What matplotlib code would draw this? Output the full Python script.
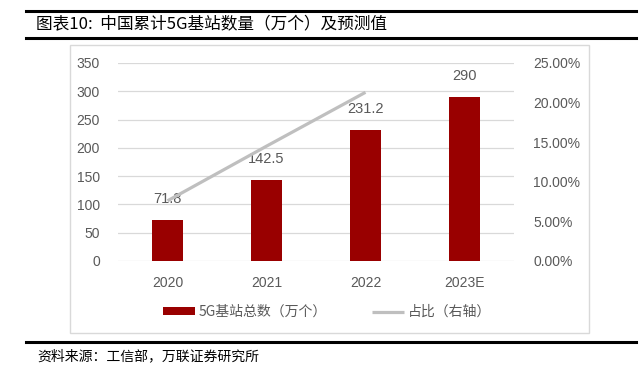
import matplotlib
matplotlib.use('Agg')
import matplotlib.pyplot as plt
from matplotlib.patches import Rectangle
from matplotlib.lines import Line2D

# data
years = ['2020', '2021', '2022', '2023E']
stations = [71.8, 142.5, 231.2, 290]
share_years = ['2020', '2021', '2022']
share = [7.6, 14.5, 21.3]  # percent
left_ticks = [0, 50, 100, 150, 200, 250, 300, 350]
right_ticks = [0, 5, 10, 15, 20, 25]

plt.rcParams['font.family'] = ['Liberation Sans', 'Noto Sans CJK SC', 'DejaVu Sans']
gray_txt = '#595959'
cjk = ['Noto Sans CJK SC', 'DejaVu Sans']

W, H = 643, 373
fig = plt.figure(figsize=(W / 100, H / 100), dpi=100)

def fx(px):
    return px / W

def fy(py):
    return 1 - py / H

# title block lines
for y, lw in [(11, 2.2), (38, 2.2), (342, 2.2)]:
    fig.add_artist(Line2D([fx(26), fx(636)], [fy(y), fy(y)], color='black', lw=lw))
fig.text(fx(36), fy(25), '图表10:  中国累计5G基站数量（万个）及预测值', family=cjk,
         fontsize=12, va='center', ha='left', color='black')
fig.text(fx(37), fy(356), '资料来源：工信部，万联证券研究所', family=cjk,
         fontsize=10, va='center', ha='left', color='black')

# chart frame
fig.add_artist(Rectangle((fx(70), fy(333)), fx(589) - fx(70), fy(45) - fy(333),
                         fill=False, edgecolor='#D9D9D9', lw=1))

ax = fig.add_axes([fx(118), fy(261), fx(514) - fx(118), fy(63) - fy(261)])
x = list(range(len(years)))
bars = ax.bar(x, stations, width=0.31, color='#990000', zorder=3, label='5G基站总数（万个）')
ax.set_xlim(-0.5, 3.5)
ax.set_ylim(0, 350)
ax.set_yticks(left_ticks)
ax.set_xticks(x, years)
ax.grid(axis='y', color='#D9D9D9', lw=0.9, zorder=0)
for s in ax.spines.values():
    s.set_visible(False)
ax.tick_params(length=0, colors=gray_txt, labelsize=10)
ax.tick_params(axis='y', pad=13)
ax.tick_params(axis='x', pad=11)

for xi, v in zip(x, stations):
    ax.annotate(f'{v:g}', (xi, v), xytext=(0, 10), textcoords='offset points',
                ha='center', va='bottom', fontsize=10.5, color=gray_txt)

ax2 = ax.twinx()
ax2.set_ylim(0, 25)
ax2.set_yticks(right_ticks, [f'{t:.2f}%' for t in right_ticks])
for s in ax2.spines.values():
    s.set_visible(False)
ax2.tick_params(length=0, colors=gray_txt, labelsize=10, pad=14)
xs = [years.index(y) for y in share_years]
line, = ax2.plot(xs, share, color='#BFBFBF', lw=2.3, zorder=4,
                 solid_capstyle='butt', label='占比（右轴）')

leg = fig.legend(handles=[bars, line], loc='center', bbox_to_anchor=(fx(327), fy(312)),
                 ncol=2, frameon=False, prop={'family': cjk, 'size': 10},
                 handlelength=2.3, handleheight=0.5, columnspacing=3.2, handletextpad=0.3)
for t in leg.get_texts():
    t.set_color(gray_txt)

fig.savefig('out.png', dpi=100)
